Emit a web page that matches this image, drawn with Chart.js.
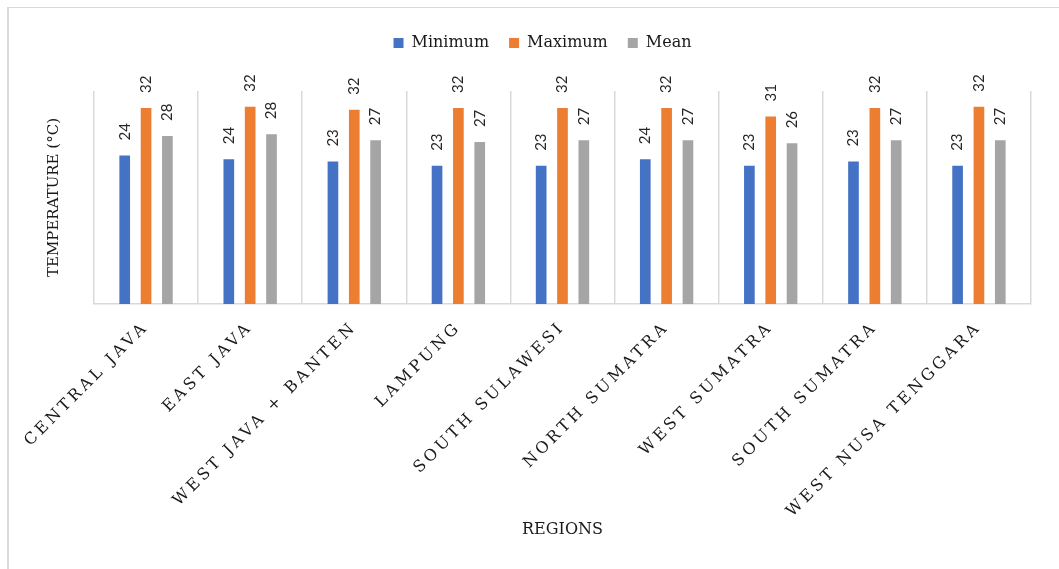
<!DOCTYPE html>
<html>
<head>
<meta charset="utf-8">
<script src="https://cdn.jsdelivr.net/npm/chart.js@4.4.0/dist/chart.umd.min.js"></script>
<style>
html, body { margin: 0; padding: 0; background: #fff; }
#wrap { position: relative; width: 1059px; height: 569px; overflow: hidden; }
#frame { position: absolute; left: 7px; top: 7px; right: -5px; bottom: -5px; border-left: 2px solid #d9d9d9; border-top: 1px solid #d9d9d9; }
canvas { position: absolute; left: 0; top: 0; }
</style>
</head>
<body>
<div id="wrap">
  <div id="frame"></div>
  <canvas id="myChart" width="1059" height="569"></canvas>
</div>
<script>
// Temperature by region
var regions = ["CENTRAL JAVA", "EAST JAVA", "WEST JAVA + BANTEN", "LAMPUNG", "SOUTH SULAWESI",
               "NORTH SUMATRA", "WEST SUMATRA", "SOUTH SUMATRA", "WEST NUSA TENGGARA"];
var minimumValues = [24.4, 23.8, 23.4, 22.7, 22.7, 23.8, 22.7, 23.4, 22.7];
var maximumValues = [32.2, 32.4, 31.9, 32.2, 32.2, 32.2, 30.8, 32.2, 32.4];
var meanValues = [27.6, 27.9, 26.9, 26.6, 26.9, 26.9, 26.4, 26.9, 26.9];

var serif = "'DejaVu Serif', serif";
var textColor = "#1a1a1a";

// value labels above bars, then letter spacing for the x tick labels
var barLabels = {
    id: "barLabels",
    afterLayout(chart) {
        // legend sits a bit right of centre in the original
        chart.legend.left += 27;
        chart.legend.right += 27;
    },
    afterDatasetsDraw(chart) {
        var ctx = chart.ctx;
        ctx.save();
        ctx.font = "15px Lato";
        ctx.fillStyle = "#262626";
        ctx.textAlign = "left";
        ctx.textBaseline = "middle";
        chart.data.datasets.forEach((ds, i) => {
            chart.getDatasetMeta(i).data.forEach((bar, j) => {
                ctx.save();
                ctx.translate(bar.x, bar.y - 15);
                ctx.rotate(-Math.PI / 2);
                ctx.fillText(String(Math.round(ds.data[j])), 0, 0);
                ctx.restore();
            });
        });
        ctx.restore();
        ctx.letterSpacing = "3.4px";
    },
    afterDraw(chart) {
        chart.ctx.letterSpacing = "0px";
    }
};

new Chart("myChart", {
    type: "bar",
    data: {
        labels: regions,
        datasets: [
            { label: "Minimum", data: minimumValues, backgroundColor: "#4472C4" },
            { label: "Maximum", data: maximumValues, backgroundColor: "#ED7D31" },
            { label: "Mean", data: meanValues, backgroundColor: "#A5A5A5" }
        ]
    },
    options: {
        responsive: false,
        animation: false,
        datasets: { bar: { categoryPercentage: 0.615, barPercentage: 0.5 } },
        layout: { padding: { left: 0, right: 28, top: 15, bottom: 0 } },
        plugins: {
            legend: {
                position: "top",
                labels: {
                    boxWidth: 10,
                    boxHeight: 10,
                    padding: 20,
                    color: textColor,
                    font: { family: serif, size: 16 }
                }
            },
            tooltip: { enabled: false }
        },
        scales: {
            x: {
                ticks: {
                    z: 1,
                    minRotation: 45,
                    maxRotation: 45,
                    padding: 14,
                    color: textColor,
                    font: { family: serif, size: 16 }
                },
                grid: { offset: true, color: "#d9d9d9", lineWidth: 1.5, drawTicks: false },
                border: { color: "#d9d9d9", width: 1.5 },
                title: {
                    display: true,
                    text: "REGIONS",
                    color: textColor,
                    font: { family: serif, size: 16 },
                    padding: { top: 0, bottom: 30 }
                },
                afterFit(s) { s.height = 265; }
            },
            xTop: {
                type: "category",
                position: "top",
                ticks: { display: false },
                grid: { display: false },
                border: { display: false },
                afterFit(s) { s.height = 30; }
            },
            y: {
                min: 0,
                max: 35,
                ticks: { display: false },
                grid: { display: false },
                border: { display: false },
                title: {
                    display: true,
                    text: "TEMPERATURE (°C)",
                    color: textColor,
                    font: { family: serif, size: 15 },
                    padding: { top: 45, bottom: 0 }
                },
                afterFit(s) { s.width = 94; }
            }
        }
    },
    plugins: [barLabels]
});
</script>
</body>
</html>
